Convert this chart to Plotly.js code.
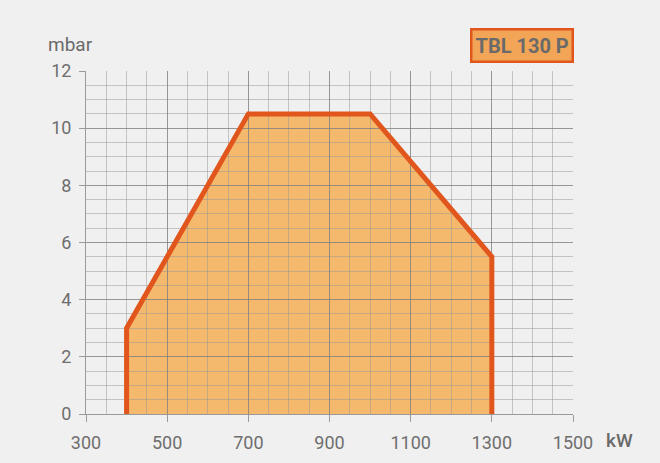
<!DOCTYPE html>
<html>
<head>
<meta charset="utf-8">
<script src="https://cdn.plot.ly/plotly-3.0.1.min.js"></script>
<style>html,body{margin:0;padding:0;background:#f0f0f0;}#chart{width:660px;height:463px;}</style>
</head>
<body>
<div id="chart"></div>
<script>
const powerKW = [400, 400, 700, 1000, 1300, 1300];
const pressureMbar = [0, 3, 10.5, 10.5, 5.5, 0];
const xTicks = [300, 500, 700, 900, 1100, 1300, 1500];
const yTicks = [0, 2, 4, 6, 8, 10, 12];
const modelName = 'TBL 130 P';

let path = '';
for (let i = 0; i < powerKW.length; i++) {
  path += (i === 0 ? 'M ' : ' L ') + powerKW[i] + ',' + pressureMbar[i];
}
path += ' Z';

const fontFam = 'Roboto, "DejaVu Sans", sans-serif';
const majorGrid = 'rgba(120,120,120,0.6)';
const minorGrid = 'rgba(150,150,150,0.5)';
const layout = {
  width: 660, height: 463,
  paper_bgcolor: '#f0f0f0', plot_bgcolor: '#f0f0f0',
  margin: {l: 86, r: 87, t: 71, b: 49},
  showlegend: false,
  font: {family: fontFam, color: '#6e6e6e', size: 17},
  xaxis: {
    range: [300, 1500], tickvals: xTicks, ticktext: xTicks.map(String),
    showgrid: true, gridcolor: majorGrid, gridwidth: 1,
    minor: {dtick: 50, tick0: 300, showgrid: true, gridcolor: minorGrid, gridwidth: 1},
    showline: true, linecolor: '#9a9a9a', linewidth: 1,
    ticks: 'outside', ticklen: 7, tickcolor: '#9a9a9a',
    tickfont: {size: 18},
    zeroline: false, fixedrange: true, ticklabelstandoff: 5
  },
  yaxis: {
    range: [0, 12], tickvals: yTicks, ticktext: yTicks.map(String),
    showgrid: true, gridcolor: majorGrid, gridwidth: 1,
    minor: {dtick: 0.5, tick0: 0, showgrid: true, gridcolor: minorGrid, gridwidth: 1},
    showline: true, linecolor: '#9a9a9a', linewidth: 1,
    ticks: 'outside', ticklen: 6, tickcolor: '#9a9a9a',
    tickfont: {size: 18},
    zeroline: false, fixedrange: true, ticklabelstandoff: 4
  },
  shapes: [{
    type: 'path', xref: 'x', yref: 'y', path: path,
    fillcolor: '#f5b96e', line: {width: 0}, layer: 'below'
  }],
  annotations: [
    {text: 'mbar', xref: 'paper', yref: 'paper', x: -0.082, y: 1.076, xanchor: 'left', yanchor: 'middle', showarrow: false, font: {size: 19, color: '#6a6a6a'}},
    {text: 'kW', xref: 'paper', yref: 'paper', x: 1.064, y: -0.077, xanchor: 'left', yanchor: 'middle', showarrow: false, font: {size: 19, color: '#6a6a6a', weight: 500}},
    {text: '<b>' + modelName + '</b>', xref: 'paper', yref: 'paper', x: 1.003, y: 1.074, xanchor: 'right', yanchor: 'middle', showarrow: false,
     bgcolor: '#f2a556', bordercolor: '#e0561c', borderwidth: 2.5, borderpad: 3, font: {size: 20, color: '#6a6a6a'}}
  ]
};

const traces = [{
  x: powerKW, y: pressureMbar, type: 'scatter', mode: 'lines',
  line: {color: '#e0561c', width: 5}, hoverinfo: 'skip'
}];

Plotly.newPlot('chart', traces, layout, {displayModeBar: false, staticPlot: true});
</script>
</body>
</html>
